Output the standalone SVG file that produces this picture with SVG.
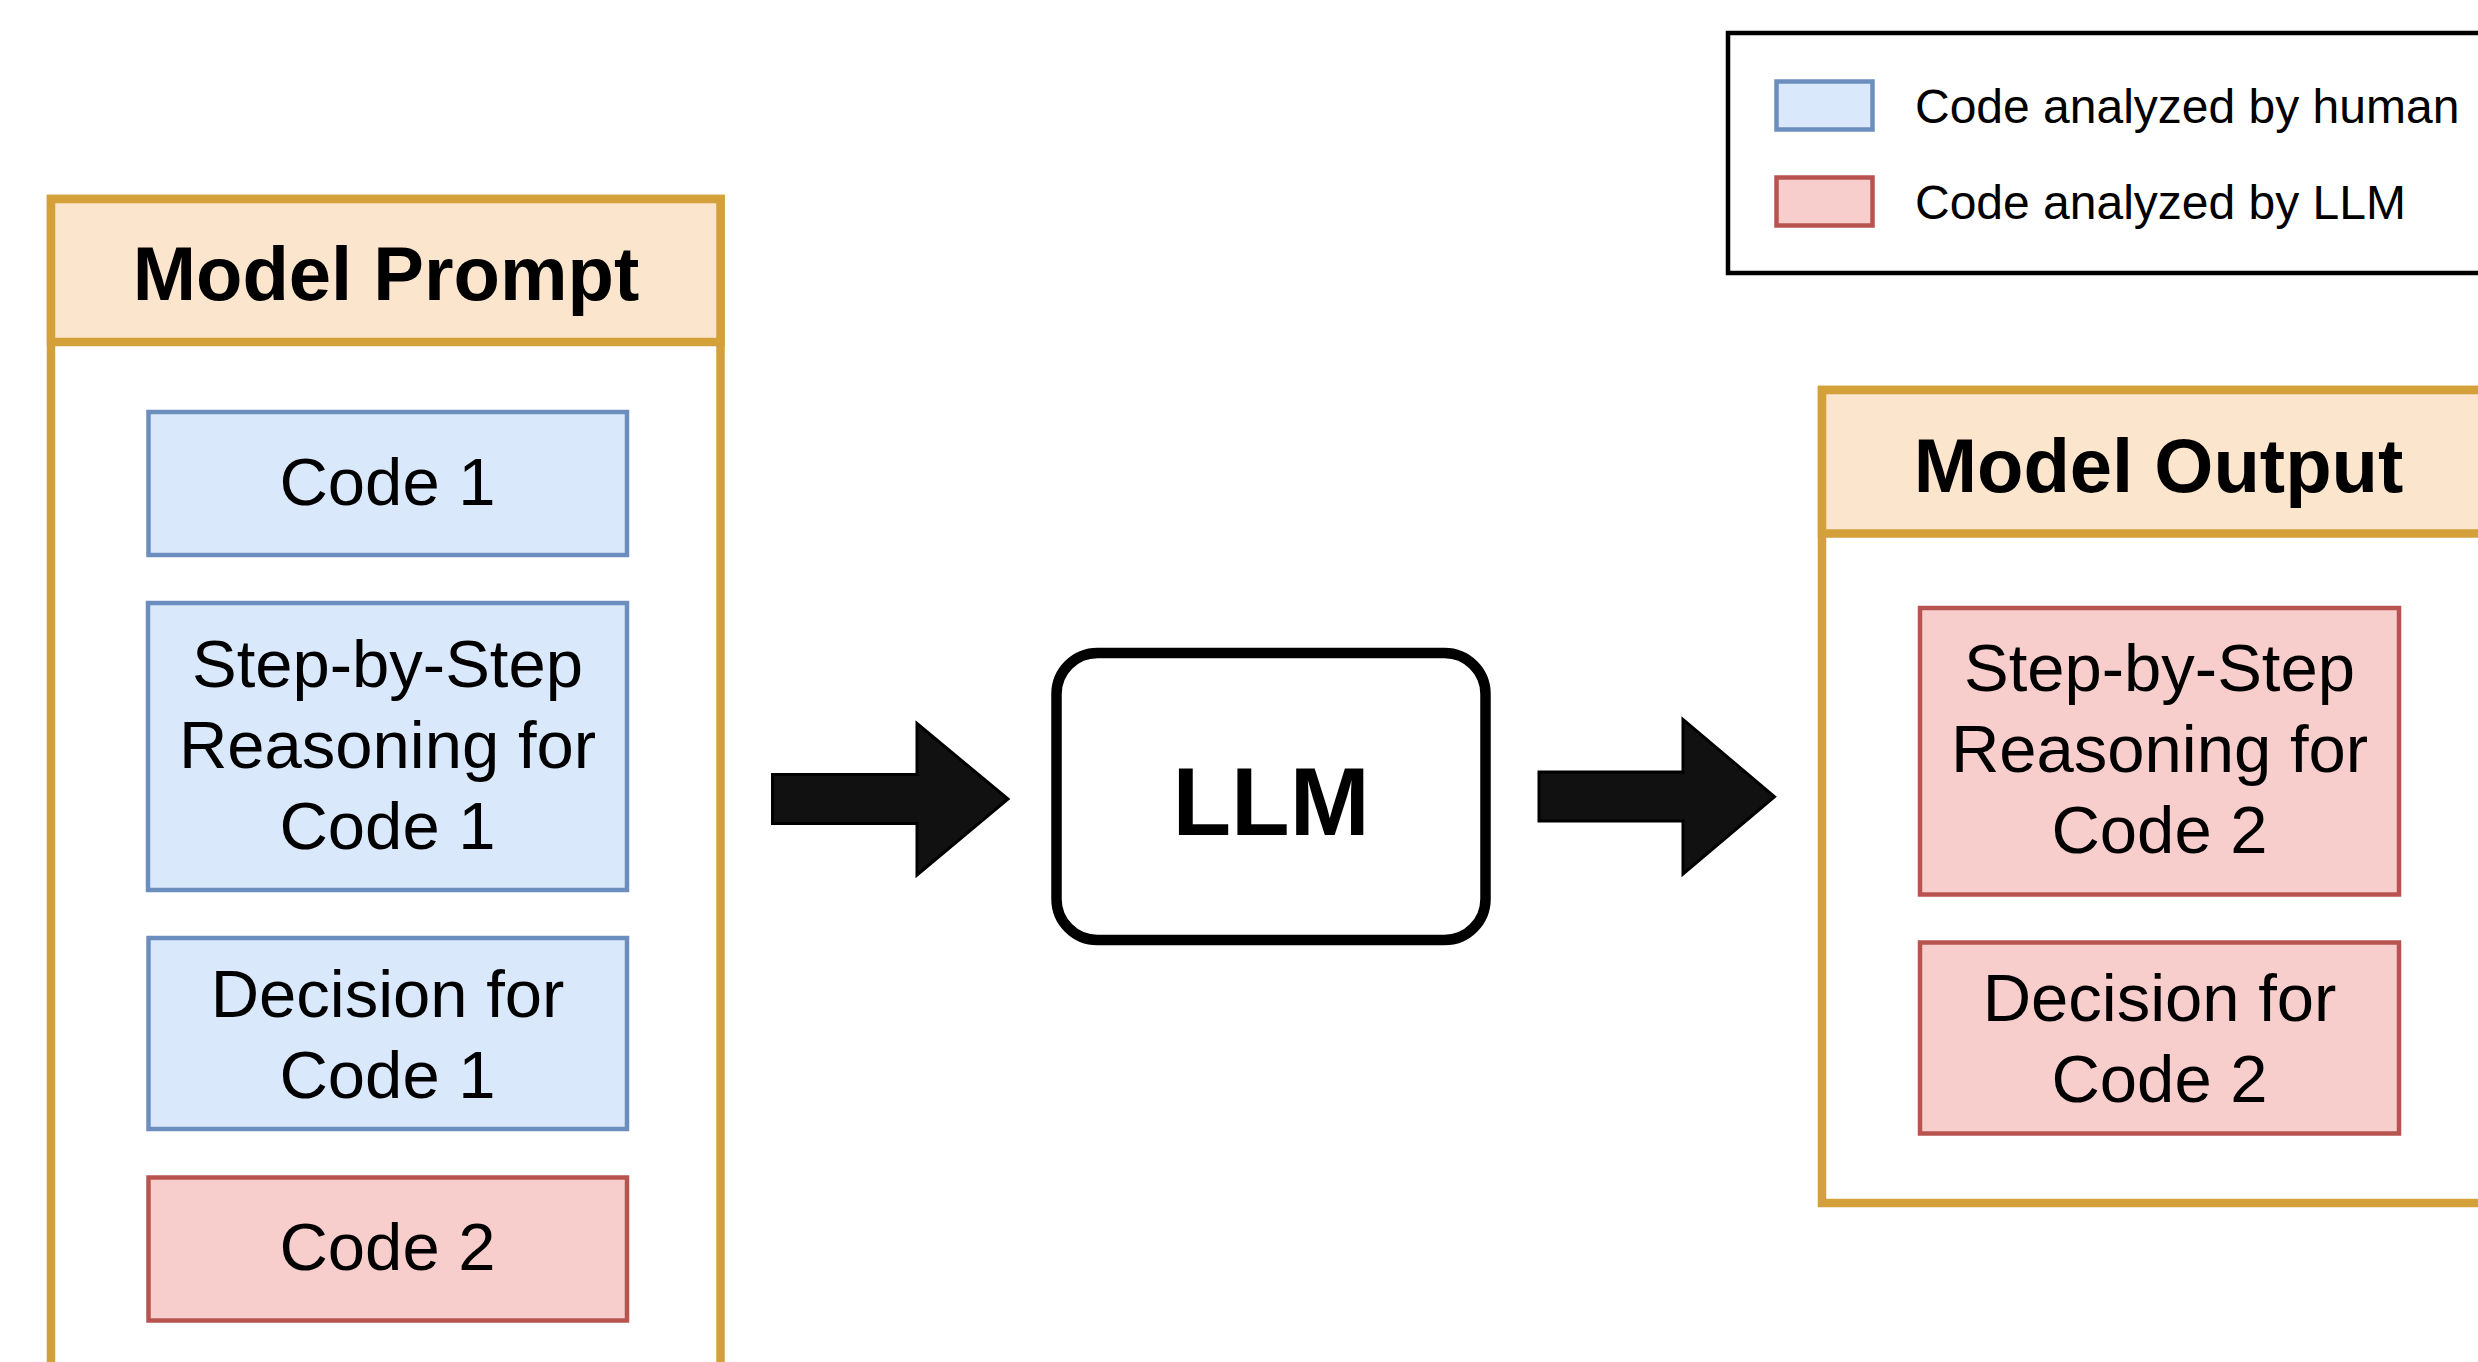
<svg xmlns="http://www.w3.org/2000/svg" width="2478" height="1362" viewBox="0 0 2478 1362">
  <style>
    text { font-family: "Liberation Sans", Arial, sans-serif; fill: #000; }
    .title { font-size: 76px; font-weight: bold; text-anchor: middle; }
    .lbl { font-size: 67px; text-anchor: middle; }
    .leg { font-size: 48px; }
    .llm { font-size: 96px; font-weight: bold; text-anchor: middle; }
    .frame { fill: #ffffff; stroke: #d3a03a; stroke-width: 8.5; }
    .head { fill: #fbe5cd; stroke: #d3a03a; stroke-width: 8.5; }
    .human { fill: #dae8fc; stroke: #6c8ebf; stroke-width: 4.5; }
    .model { fill: #f8cecc; stroke: #b85450; stroke-width: 4.5; }
    .arrow { fill: #111111; stroke: #000000; stroke-width: 3; stroke-linejoin: miter; }
  </style>

  <rect x="0" y="0" width="2478" height="1362" fill="#ffffff"/>

  <!-- legend -->
  <g id="legend">
    <rect x="1728" y="33" width="820" height="240" fill="#ffffff" stroke="#000000" stroke-width="4.5"/>
    <rect class="human" x="1776.5" y="81.5" width="96" height="48" stroke-width="4"/>
    <text class="leg" x="1915" y="122.5">Code analyzed by human</text>
    <rect class="model" x="1776.5" y="177.5" width="96" height="48" stroke-width="4"/>
    <text class="leg" x="1915" y="218.5">Code analyzed by LLM</text>
  </g>

  <!-- prompt container -->
  <g id="model-prompt">
    <rect class="frame" x="51" y="199" width="669.5" height="1250"/>
    <rect class="head" x="51" y="199" width="669.5" height="143"/>
    <text class="title" x="386" y="299.5">Model Prompt</text>
  </g>

  <g id="code1">
    <rect class="human" x="148.5" y="412" width="478.5" height="143"/>
    <text class="lbl" x="387.5" y="505">Code 1</text>
  </g>

  <g id="reasoning1">
    <rect class="human" x="148" y="603" width="479" height="287"/>
    <text class="lbl" x="387.5" y="686.5">Step-by-Step</text>
    <text class="lbl" x="387.5" y="768">Reasoning for</text>
    <text class="lbl" x="387.5" y="848.5">Code 1</text>
  </g>

  <g id="decision1">
    <rect class="human" x="148.5" y="938" width="478.5" height="191"/>
    <text class="lbl" x="387.5" y="1017">Decision for</text>
    <text class="lbl" x="387.5" y="1097.5">Code 1</text>
  </g>

  <g id="code2">
    <rect class="model" x="148.5" y="1177.5" width="478.5" height="143"/>
    <text class="lbl" x="387.5" y="1270">Code 2</text>
  </g>

  <!-- language model -->
  <g id="llm">
    <rect x="1056.5" y="653" width="429" height="287" rx="41" ry="41" fill="#ffffff" stroke="#000000" stroke-width="10.5"/>
    <text class="llm" x="1271" y="835">LLM</text>
  </g>

  <!-- output container -->
  <g id="model-output">
    <rect class="frame" x="1822" y="390" width="700" height="813"/>
    <rect class="head" x="1822" y="390" width="700" height="143.5"/>
    <text class="title" x="2158.5" y="492">Model Output</text>
  </g>

  <g id="reasoning2">
    <rect class="model" x="1920" y="608" width="479" height="286.5"/>
    <text class="lbl" x="2159.5" y="691">Step-by-Step</text>
    <text class="lbl" x="2159.5" y="771.5">Reasoning for</text>
    <text class="lbl" x="2159.5" y="852.5">Code 2</text>
  </g>

  <g id="decision2">
    <rect class="model" x="1920" y="942.5" width="479" height="191"/>
    <text class="lbl" x="2159.5" y="1021">Decision for</text>
    <text class="lbl" x="2159.5" y="1101.5">Code 2</text>
  </g>

  <!-- connectors -->
  <g id="connectors">
    <polygon class="arrow" points="772.5,774.5 917,774.5 917,723.5 1008,799 917,875 917,823.5 772.5,823.5"/>
    <polygon class="arrow" points="1539,772 1683,772 1683,719.5 1774.5,796.7 1683,874 1683,821 1539,821"/>
  </g>
</svg>
